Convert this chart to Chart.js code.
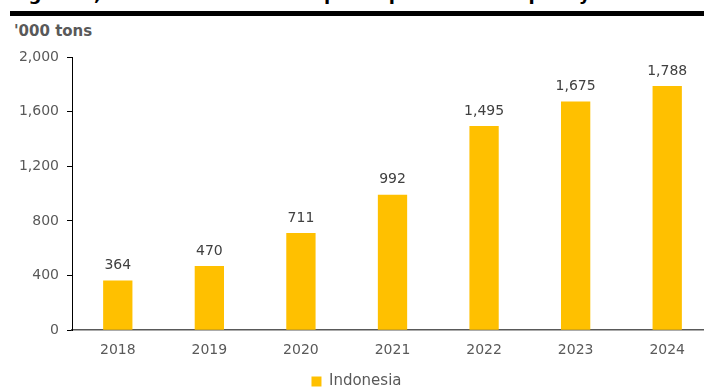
<!DOCTYPE html>
<html>
<head>
<meta charset="utf-8">
<script src="https://cdn.jsdelivr.net/npm/chart.js@4.4.1/dist/chart.umd.min.js"></script>
<style>
  html, body { margin: 0; padding: 0; background: #fff; overflow: hidden; }
  #wrap { position: relative; width: 713px; height: 399px; }
  #title {
    position: absolute; left: 10px; top: -17px; white-space: nowrap;
    font: bold 18px "DejaVu Sans", sans-serif; color: #000;
  }
  #rule { position: absolute; left: 10px; top: 11px; width: 700px; height: 5px; background: #000; }
  #unit {
    position: absolute; left: 14px; top: 22px;
    font: bold 15px "DejaVu Sans", sans-serif; color: #595959;
  }
  #box { position: absolute; left: 0; top: 0; width: 713px; height: 399px; }
</style>
</head>
<body>
<div id="wrap">
  <div id="title">Figure 4, Indonesia's nickel sulphate production capacity</div>
  <div id="rule"></div>
  <div id="unit">'000 tons</div>
  <div id="box"><canvas id="myChart"></canvas></div>
</div>
<script>
const years = ['2018', '2019', '2020', '2021', '2022', '2023', '2024'];
const capacity = [364, 470, 711, 992, 1495, 1675, 1788];
const yTicks = [0, 400, 800, 1200, 1600, 2000];

const fontFamily = '"DejaVu Sans", sans-serif';

// value labels above each bar
const barLabels = {
    id: 'barLabels',
    afterDatasetsDraw(chart) {
        const ctx = chart.ctx;
        const meta = chart.getDatasetMeta(0);
        ctx.save();
        ctx.font = '14px ' + fontFamily;
        ctx.fillStyle = '#404040';
        ctx.textAlign = 'center';
        ctx.textBaseline = 'bottom';
        meta.data.forEach((bar, i) => {
            ctx.fillText(capacity[i].toLocaleString('en-US'), bar.x, bar.y - 8);
        });
        ctx.restore();
    }
};

const ctx = document.getElementById('myChart');

const data = {
    labels: years,
    datasets: [
        {
            label: 'Indonesia',
            data: capacity,
            backgroundColor: '#FFC000',
            borderWidth: 0,
            barPercentage: 0.32,
            categoryPercentage: 1.0
        }
    ]
};

const config = {
    type: 'bar',
    data: data,
    plugins: [barLabels],
    options: {
        responsive: true,
        maintainAspectRatio: false,
        animation: false,
        layout: {
            padding: { top: 57, right: 0, left: 0, bottom: 0 }
        },
        scales: {
            x: {
                grid: { display: false },
                border: { display: true, color: '#595959', width: 1.5 },
                ticks: {
                    color: '#595959',
                    font: { family: fontFamily, size: 14 },
                    padding: 4
                }
            },
            y: {
                min: 0,
                max: 2000,
                afterBuildTicks: (axis) => {
                    axis.ticks = yTicks.map(v => ({ value: v }));
                },
                afterFit: (axis) => { axis.width = 72; },
                grid: {
                    drawOnChartArea: false,
                    drawTicks: true,
                    tickLength: 5,
                    color: '#000'
                },
                border: { display: true, color: '#000', width: 1 },
                ticks: {
                    color: '#595959',
                    font: { family: fontFamily, size: 14 },
                    padding: 8,
                    callback: (v) => v.toLocaleString('en-US')
                }
            }
        },
        plugins: {
            legend: {
                position: 'bottom',
                labels: {
                    color: '#595959',
                    font: { family: fontFamily, size: 15 },
                    boxWidth: 10,
                    boxHeight: 10,
                    padding: 11
                }
            },
            tooltip: { enabled: false }
        }
    }
};

var chart = new Chart(ctx, config);
</script>
</body>
</html>
